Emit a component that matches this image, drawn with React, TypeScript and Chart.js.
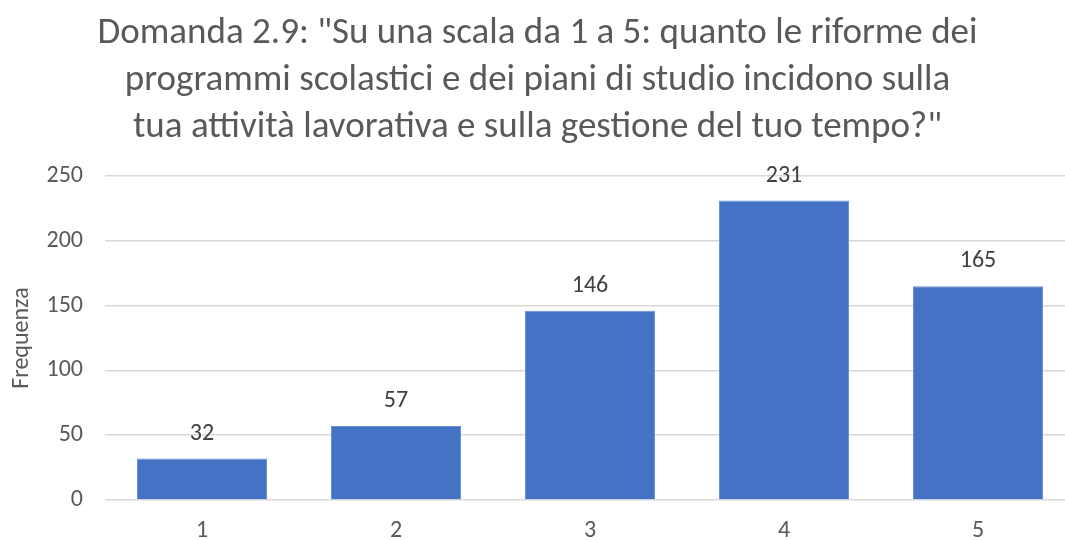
import React, { useEffect, useRef } from "react";
import { Chart, registerables } from "chart.js";

Chart.register(...registerables);

const categories = ["1", "2", "3", "4", "5"];
const frequencies = [32, 57, 146, 231, 165];
const titleLines = [
  'Domanda 2.9: "Su una scala da 1 a 5: quanto le riforme dei',
  "programmi scolastici e dei piani di studio incidono sulla",
  'tua attività lavorativa e sulla gestione del tuo tempo?"',
];
const yAxisTitle = "Frequenza";

const FONT = "Carlito, 'Liberation Sans Narrow', 'Open Sans', sans-serif";

const valueLabels = {
  id: "valueLabels",
  afterDatasetsDraw(chart: any) {
    const ctx = chart.ctx;
    const meta = chart.getDatasetMeta(0);
    ctx.save();
    ctx.font = `24px ${FONT}`;
    ctx.fillStyle = "#404040";
    ctx.textAlign = "center";
    ctx.textBaseline = "middle";
    meta.data.forEach((el: any, i: number) => {
      ctx.fillText(String(chart.data.datasets[0].data[i]), el.x, el.y - 25);
    });
    ctx.restore();
  },
};

export default function App() {
  const ref = useRef<HTMLCanvasElement>(null);
  useEffect(() => {
    document.body.style.margin = "0";
    document.body.style.overflow = "hidden";
    const chart = new Chart(ref.current!, {
      type: "bar",
      data: {
        labels: categories,
        datasets: [
          {
            data: frequencies,
            backgroundColor: "#4472C4",
            borderColor: "#6A8FD3",
            borderWidth: 1,
            barPercentage: 0.67,
            categoryPercentage: 1,
          },
        ],
      },
      options: {
        animation: false,
        responsive: false,
        maintainAspectRatio: false,
        layout: { padding: { left: 0, right: 5, top: 0, bottom: 0 } },
        plugins: {
          legend: { display: false },
          tooltip: { enabled: false },
          title: {
            display: true,
            text: titleLines,
            color: "#595959",
            font: { family: FONT, size: 37, weight: "normal", lineHeight: 1.27 },
            padding: { top: 10, bottom: 25 },
          },
        },
        scales: {
          x: {
            grid: { display: false },
            border: { display: false },
            ticks: { color: "#595959", font: { family: FONT, size: 24 }, padding: 9 },
            afterFit(scale: any) {
              scale.height = 40;
            },
          },
          y: {
            min: 0,
            max: 250,
            ticks: { stepSize: 50, color: "#595959", font: { family: FONT, size: 24 }, padding: 22 },
            grid: { color: "#D9D9D9", lineWidth: 1.5, drawTicks: false },
            border: { display: false },
            title: {
              display: true,
              text: yAxisTitle,
              color: "#595959",
              font: { family: FONT, size: 24 },
              padding: { top: 8, bottom: 0 },
            },
            afterFit(scale: any) {
              scale.width = 105;
            },
          },
        },
      },
      plugins: [valueLabels],
    });
    return () => chart.destroy();
  }, []);
  return (
    <div style={{ position: "relative", width: 1065, height: 540, overflow: "hidden", background: "#fff" }}>
      <canvas ref={ref} width={1080} height={540} style={{ width: 1080, height: 540, display: "block" }} />
    </div>
  );
}
